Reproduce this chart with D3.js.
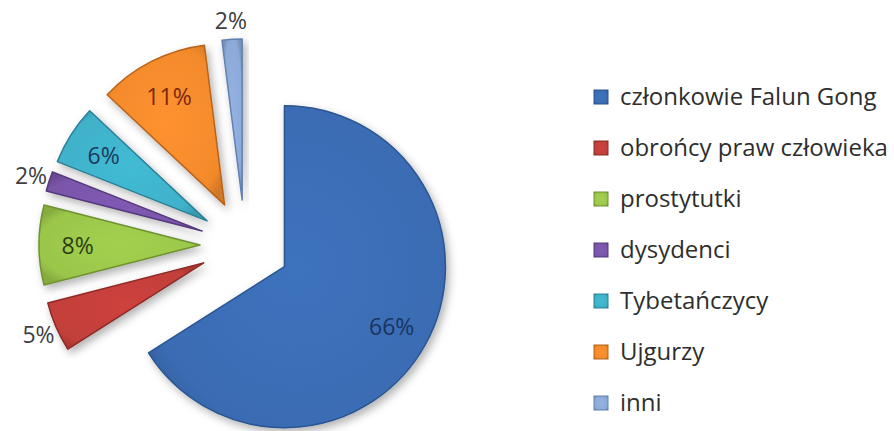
<!DOCTYPE html>
<html>
<head>
  <meta charset="utf-8">
  <title>Pie</title>
  <script src="https://cdn.jsdelivr.net/npm/d3@7"></script>
  <style>
    body { margin: 0; background: #fff; }
    svg text { font-family: "Open Sans", "DejaVu Sans", sans-serif; }
    .leg text { font-size: 24px; fill: #2e2e2e; }
    .lab { font-size: 23px; text-anchor: middle; dominant-baseline: central; }
  </style>
</head>
<body>
<div id="chart"></div>
<script>
"use strict"

// dane
var kategorie = ["członkowie Falun Gong", "obrońcy praw człowieka", "prostytutki",
                 "dysydenci", "Tybetańczycy", "Ujgurzy", "inni"];
var wartosci = [66, 5, 8, 2, 6, 11, 2];
var kolory = ["#3a6cb3", "#c23f3a", "#9ac64a", "#7a55aa", "#3fb1c9", "#f38a2c", "#8caad8"];
var koloryKrawedzi = ["#2a5590", "#8e2a26", "#6f9230", "#553a7c", "#2a8196", "#b8631a", "#6381b0"];
var koloryEtykiet = ["#1b3461", "#404040", "#2c3d12", "#404040", "#1b3a5e", "#7a2810", "#404040"];

var szer = 894, wys = 431;
var srodek = {x: 245, y: 245}, promien = 161, wysuniecie = 45;

var svg = d3.select("#chart").append("svg")
    .attr("width", szer).attr("height", wys);

var defs = svg.append("defs");
var cien = defs.append("filter").attr("id", "cien")
    .attr("x", "-20%").attr("y", "-20%").attr("width", "150%").attr("height", "150%");
cien.append("feDropShadow").attr("dx", 3).attr("dy", 4).attr("stdDeviation", 4)
    .attr("flood-color", "#000").attr("flood-opacity", 0.3);

kolory.forEach(function(k, i) {
  var g = defs.append("radialGradient").attr("id", "grad" + i)
      .attr("cx", "50%").attr("cy", "50%").attr("r", "60%");
  g.append("stop").attr("offset", "0%").attr("stop-color", d3.color(k).brighter(0.15));
  g.append("stop").attr("offset", "85%").attr("stop-color", k);
  g.append("stop").attr("offset", "100%").attr("stop-color", d3.color(k).darker(0.4));
});

var pie = d3.pie().sort(null).value(function(d) { return d; });
var luki = pie(wartosci);
var arc = d3.arc().innerRadius(0).outerRadius(promien);

function przesun(d, odl) {
  var sr = (d.startAngle + d.endAngle) / 2;
  return [srodek.x + odl * Math.sin(sr), srodek.y - odl * Math.cos(sr)];
}

var kawalki = svg.append("g").selectAll("g")
    .data(luki).enter().append("g")
    .attr("transform", function(d) {
      var p = przesun(d, wysuniecie);
      return "translate(" + p[0] + "," + p[1] + ")";
    });

kawalki.append("path")
    .attr("d", arc)
    .attr("fill", function(d, i) { return "url(#grad" + i + ")"; })
    .attr("stroke", function(d, i) { return koloryKrawedzi[i]; })
    .attr("stroke-width", 1.5)
    .attr("stroke-linejoin", "round")
    .attr("filter", "url(#cien)");

// etykiety: male wartosci na zewnatrz
kawalki.append("text")
    .attr("class", "lab")
    .attr("transform", function(d) {
      var sr = (d.startAngle + d.endAngle) / 2;
      var odl = d.data <= 5 ? promien + 19 : promien * 0.76;
      return "translate(" + (odl * Math.sin(sr)) + "," + (-odl * Math.cos(sr)) + ")";
    })
    .attr("fill", function(d, i) { return koloryEtykiet[i]; })
    .text(function(d) { return d.data + "%"; });

// legenda
var leg = svg.append("g").attr("class", "leg")
    .attr("transform", "translate(594,97)");
var pozycje = leg.selectAll("g").data(kategorie).enter().append("g")
    .attr("transform", function(d, i) { return "translate(0," + (i * 51) + ")"; });
pozycje.append("rect")
    .attr("x", 0).attr("y", -7).attr("width", 14).attr("height", 14)
    .attr("fill", function(d, i) { return "url(#grad" + i + ")"; })
    .attr("stroke", function(d, i) { return koloryKrawedzi[i]; })
    .attr("stroke-width", 1);
pozycje.append("text")
    .attr("x", 26).attr("dy", "0.35em")
    .text(function(d) { return d; });
</script>
</body>
</html>
